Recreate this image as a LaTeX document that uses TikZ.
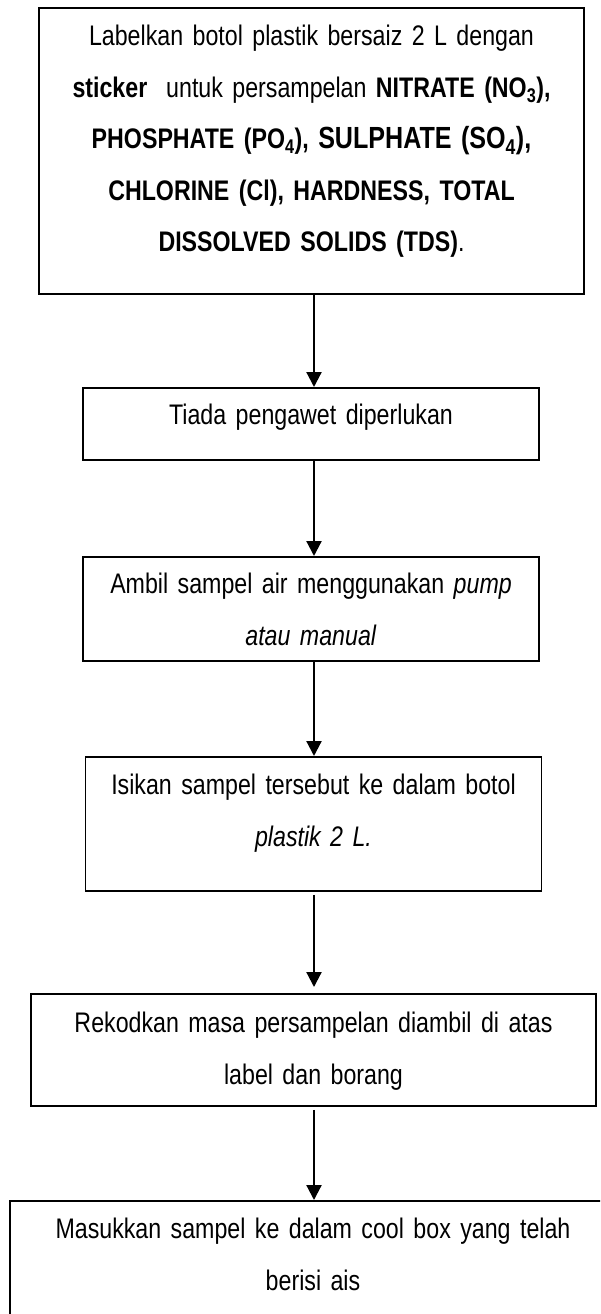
\documentclass[tikz,border=0pt]{standalone}
\usepackage{fontspec}
\setmainfont{Liberation Sans}[FakeStretch=0.82]
\usetikzlibrary{arrows.meta}

\begin{document}
\begin{tikzpicture}[x=1pt, y=-1pt,
  stepbox/.style={draw, line width=1.8pt, inner xsep=0pt, inner ysep=0pt, anchor=north, align=center, font=\fontsize{28.3}{51.4}\selectfont},
  flow/.style={line width=2.2pt, -{Triangle[width=15pt, length=15pt]}}]
\clip (0,0) rectangle (600,1314);
\coordinate (axis) at (314,0);
\node [stepbox, text width=545pt, text height=38pt, text depth=248pt] (label) at (311.5,7)
  {Labelkan botol plastik bersaiz 2 L dengan\\
   \textbf{sticker}\ \ untuk persampelan \textbf{NITRATE (NO\textsubscript{3}),}\\
   \textbf{PHOSPHATE (PO\textsubscript{4}), {\fontsize{30.6}{51.4}\selectfont SULPHATE (SO\textsubscript{4}),}}\\
   \textbf{CHLORINE (Cl), HARDNESS, TOTAL}\\
   \textbf{DISSOLVED SOLIDS (TDS)}.};
\node [stepbox, text width=456pt, text height=37pt, text depth=35pt] (nopreserve) at (311,387)
  {Tiada pengawet diperlukan};
\node [stepbox, text width=456pt, text height=37pt, text depth=67pt] (collect) at (311,556)
  {Ambil sampel air menggunakan \textit{pump}\\ \textit{atau manual}};
\node [stepbox, text width=456pt, text height=38pt, text depth=96pt] (fill) at (313.5,756)
  {Isikan sampel tersebut ke dalam botol\\ \textit{plastik 2 L.}};
\node [stepbox, text width=565pt, text height=39pt, text depth=73pt] (record) at (313.5,993)
  {Rekodkan masa persampelan diambil di atas\\ label dan borang};
\node [stepbox, text width=606pt, text height=38pt, text depth=110pt] (coolbox) at (313,1200)
  {Masukkan sampel ke dalam cool box yang telah\\ berisi ais};
\draw [flow] (label.south -| axis) -- (nopreserve.north -| axis);
\draw [flow] (nopreserve.south -| axis) -- (collect.north -| axis);
\draw [flow] (collect.south -| axis) -- (fill.north -| axis);
\draw [flow, shorten <=3pt, shorten >=6pt] (fill.south -| axis) -- (record.north -| axis);
\draw [flow, shorten <=3pt] (record.south -| axis) -- (coolbox.north -| axis);
\end{tikzpicture}
\end{document}
